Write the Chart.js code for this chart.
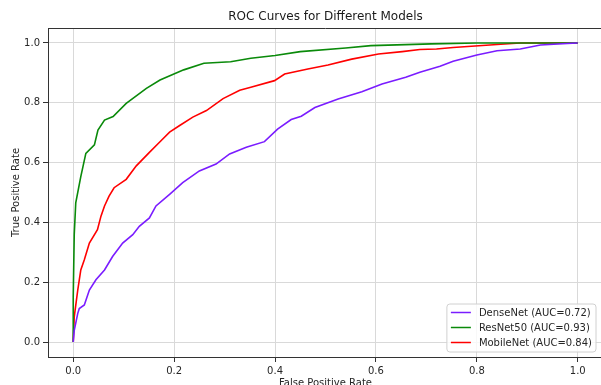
<!DOCTYPE html>
<html>
<head>
<meta charset="utf-8">
<title>ROC Curves</title>
<script src="https://cdn.jsdelivr.net/npm/chart.js@4.4.1/dist/chart.umd.min.js"></script>
<style>
    html, body { margin: 0; padding: 0; overflow: hidden; background: #fff; }
    #wrap { position: relative; width: 606px; height: 392px; }
</style>
</head>
<body>
<div id="wrap"><canvas id="chart"></canvas></div>
<script>
// Tick positions on both axes
const fprTicks = [0, 0.2, 0.4, 0.6, 0.8, 1.0];
const tprTicks = [0, 0.2, 0.4, 0.6, 0.8, 1.0];

const modelLabels = ['DenseNet (AUC=0.72)', 'ResNet50 (AUC=0.93)', 'MobileNet (AUC=0.84)'];

// DenseNet
const densenetFpr = [0, 0.002, 0.009, 0.012, 0.022, 0.032, 0.045, 0.062, 0.078, 0.098, 0.118, 0.131, 0.151, 0.164,
    0.191, 0.217, 0.25, 0.283, 0.31, 0.343, 0.379, 0.405, 0.432, 0.452, 0.479, 0.525, 0.572, 0.612, 0.659, 0.687,
    0.727, 0.753, 0.80, 0.84, 0.886, 0.926, 0.979, 1.0];
const densenetTpr = [0, 0.039, 0.096, 0.112, 0.124, 0.174, 0.208, 0.241, 0.286, 0.331, 0.359, 0.387, 0.415, 0.455,
    0.494, 0.533, 0.572, 0.595, 0.629, 0.651, 0.670, 0.712, 0.744, 0.755, 0.784, 0.813, 0.837, 0.863, 0.885, 0.902,
    0.922, 0.939, 0.96, 0.974, 0.98, 0.993, 0.998, 1.0];

// ResNet50
const resnetFpr = [0, 0, 0.002, 0.005, 0.015, 0.025, 0.042, 0.049, 0.062, 0.079, 0.105, 0.145, 0.172, 0.219, 0.259,
    0.312, 0.352, 0.40, 0.45, 0.54, 0.59, 0.71, 0.80, 1.0];
const resnetTpr = [0, 0.15, 0.36, 0.465, 0.553, 0.631, 0.659, 0.709, 0.742, 0.754, 0.798, 0.848, 0.876, 0.910, 0.932,
    0.937, 0.949, 0.958, 0.971, 0.983, 0.991, 0.997, 1.0, 1.0];

// MobileNet
const mobilenetFpr = [0, 0.002, 0.009, 0.015, 0.022, 0.032, 0.048, 0.055, 0.062, 0.071, 0.081, 0.105, 0.125, 0.151,
    0.171, 0.191, 0.211, 0.237, 0.264, 0.297, 0.33, 0.352, 0.399, 0.419, 0.465, 0.505, 0.552, 0.605, 0.652, 0.687,
    0.72, 0.753, 0.84, 0.886, 1.0];
const mobilenetTpr = [0, 0.084, 0.174, 0.241, 0.275, 0.331, 0.376, 0.421, 0.455, 0.488, 0.516, 0.544, 0.589, 0.634,
    0.668, 0.702, 0.724, 0.752, 0.774, 0.814, 0.842, 0.852, 0.874, 0.896, 0.913, 0.926, 0.946, 0.963, 0.971, 0.978,
    0.98, 0.985, 0.995, 1.0, 1.0];

const toPoints = (xs, ys) => xs.map((x, i) => ({ x: x, y: ys[i] }));

Chart.defaults.font.family = "'DejaVu Sans', sans-serif";
Chart.defaults.color = '#262626';

// Matplotlib style box + legend in the lower right corner
const boxAndLegend = {
    id: 'boxAndLegend',
    afterDraw(chart) {
        const { ctx, chartArea: a } = chart;
        ctx.save();
        ctx.strokeStyle = '#333';
        ctx.lineWidth = 1;
        ctx.beginPath();
        ctx.moveTo(a.left, Math.round(a.top) + 0.5);
        ctx.lineTo(a.right, Math.round(a.top) + 0.5);
        ctx.moveTo(Math.round(a.right) - 0.5, a.top);
        ctx.lineTo(Math.round(a.right) - 0.5, a.bottom);
        ctx.stroke();

        ctx.font = "10px 'DejaVu Sans'";
        const sets = chart.data.datasets;
        const textW = Math.max(...sets.map(d => ctx.measureText(d.label).width));
        const w = 4 + 20 + 8 + textW + 4;
        const h = 48;
        const x0 = a.right - 7 - w;
        const y0 = a.bottom - 5 - h;
        const r = 3;
        ctx.beginPath();
        ctx.moveTo(x0 + r, y0);
        ctx.arcTo(x0 + w, y0, x0 + w, y0 + h, r);
        ctx.arcTo(x0 + w, y0 + h, x0, y0 + h, r);
        ctx.arcTo(x0, y0 + h, x0, y0, r);
        ctx.arcTo(x0, y0, x0 + w, y0, r);
        ctx.closePath();
        ctx.fillStyle = 'rgba(255, 255, 255, 0.8)';
        ctx.fill();
        ctx.strokeStyle = '#d0d0d0';
        ctx.stroke();

        sets.forEach((d, i) => {
            const y = y0 + 8.5 + 15 * i;
            ctx.strokeStyle = d.borderColor;
            ctx.lineWidth = 1.5;
            ctx.beginPath();
            ctx.moveTo(x0 + 4, y);
            ctx.lineTo(x0 + 24, y);
            ctx.stroke();
            ctx.fillStyle = '#262626';
            ctx.textBaseline = 'middle';
            ctx.textAlign = 'left';
            ctx.fillText(d.label, x0 + 32, y + 0.5);
        });
        ctx.restore();
    }
};

new Chart(document.getElementById('chart'), {
    type: 'line',
    data: {
        datasets: [{
            label: modelLabels[0],
            data: toPoints(densenetFpr, densenetTpr),
            borderColor: '#7a1cff',
            borderWidth: 1.6
        }, {
            label: modelLabels[1],
            data: toPoints(resnetFpr, resnetTpr),
            borderColor: '#0a8a0a',
            borderWidth: 1.6
        }, {
            label: modelLabels[2],
            data: toPoints(mobilenetFpr, mobilenetTpr),
            borderColor: '#ff0000',
            borderWidth: 1.6
        }]
    },
    options: {
        responsive: true,
        maintainAspectRatio: false,
        animation: false,
        layout: { padding: { left: 0, right: 3, top: 0, bottom: 0 } },
        elements: {
            point: { radius: 0 },
            line: { tension: 0 }
        },
        scales: {
            x: {
                type: 'linear',
                min: -0.05,
                max: 1.05,
                afterBuildTicks: axis => { axis.ticks = fprTicks.map(v => ({ value: v })); },
                afterFit: axis => { axis.height = 35; },
                ticks: {
                    font: { size: 10 },
                    padding: 3,
                    maxRotation: 0,
                    callback: v => v.toFixed(1)
                },
                grid: { color: '#d9d9d9', tickColor: '#333', tickLength: 5 },
                border: { color: '#333', width: 1 },
                title: {
                    display: true,
                    text: 'False Positive Rate',
                    font: { size: 10 },
                    padding: { top: 0, bottom: 3 }
                }
            },
            y: {
                min: -0.05,
                max: 1.05,
                afterBuildTicks: axis => { axis.ticks = tprTicks.map(v => ({ value: v })); },
                afterFit: axis => { axis.width = 48; },
                ticks: {
                    font: { size: 10 },
                    padding: 3,
                    callback: v => v.toFixed(1)
                },
                grid: { color: '#d9d9d9', tickColor: '#333', tickLength: 5 },
                border: { color: '#333', width: 1 },
                title: {
                    display: true,
                    text: 'True Positive Rate',
                    font: { size: 10 },
                    padding: { top: 10, bottom: 0 }
                }
            }
        },
        plugins: {
            legend: { display: false },
            tooltip: { enabled: false },
            title: {
                display: true,
                fullSize: false,
                text: 'ROC Curves for Different Models',
                color: '#1a1a1a',
                font: { size: 12, weight: 'normal' },
                padding: { top: 10, bottom: 3.6 }
            }
        }
    },
    plugins: [boxAndLegend]
});
</script>
</body>
</html>
